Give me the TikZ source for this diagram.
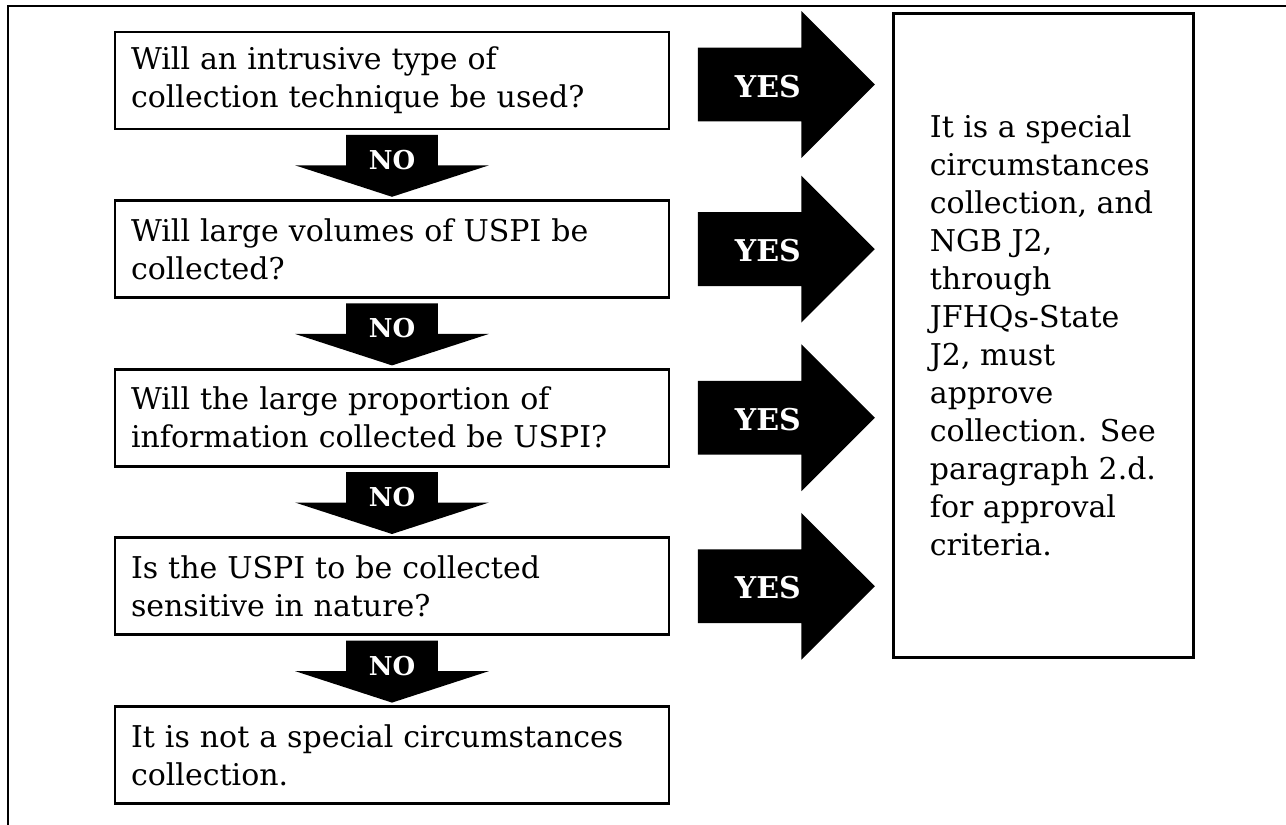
\documentclass[tikz,border=0pt]{standalone}
\usepackage{fontspec}
\setmainfont{DejaVu Serif}
\usetikzlibrary{positioning,shapes.arrows}
\tikzset{
    %Define style for question boxes
    qbox/.style={
           rectangle,
           draw=black, line width=1.4pt,
           text width=261pt,
           inner xsep=8pt,
           minimum height=48.5pt,
           align=left,
           font=\fontsize{15}{19}\selectfont},
    %Define style for the answer box
    abox/.style={
           rectangle,
           draw=black, line width=1.5pt,
           minimum width=150pt,
           minimum height=322pt,
           align=left,
           font=\fontsize{15}{19}\selectfont},
    %Define style for the block arrows
    yesarrow/.style={
           single arrow,
           fill=black, text=white,
           font=\fontsize{15}{17}\selectfont\bfseries,
           inner sep=0pt,
           text height=24.5pt, text depth=12pt,
           minimum width=0pt, minimum height=88.5pt,
           single arrow head extend=18.25pt,
           single arrow tip angle=90},
    noarrow/.style={
           single arrow, shape border rotate=270,
           fill=black, text=white,
           font=\fontsize{13}{14}\selectfont\bfseries,
           inner sep=0pt,
           text width=45.5pt, align=center,
           text height=13pt, text depth=2pt,
           minimum width=0pt, minimum height=31pt,
           single arrow head extend=25.5pt,
           single arrow tip angle=144}
}
\begin{document}
\begin{tikzpicture}[x=0.5pt,y=-0.5pt,node distance=34.4pt]
\useasboundingbox (0,0) rectangle (1286,825);
\draw[line width=1.4pt] (8,825) -- (8,6) -- (1286,6);
% question chain
\node[qbox] (q1) at (392,80.5) {Will an intrusive type of\\collection technique be used?};
\node[qbox, below=of q1] (q2) {Will large volumes of USPI be\\collected?};
\node[qbox, below=of q2] (q3) {Will the large proportion of\\information collected be USPI?};
\node[qbox, below=of q3] (q4) {Is the USPI to be collected\\sensitive in nature?};
\node[qbox, below=of q4] (q5) {It is not a special circumstances\\collection.};
\node[abox] (res) at (1043,335) {It is a special\\circumstances\\collection, and\\NGB J2,\\through\\JFHQs-State\\J2, must\\approve\\collection. See\\paragraph 2.d.\\for approval\\criteria.};
% NO arrows
\node[noarrow, below=2pt of q1, anchor=tail] (n1) {NO};
\node[noarrow, below=2pt of q2, anchor=tail] (n2) {NO};
\node[noarrow, below=2pt of q3, anchor=tail] (n3) {NO};
\node[noarrow, below=2pt of q4, anchor=tail] (n4) {NO};
% YES arrows
\node[yesarrow, right=13.5pt of q1, anchor=tail, yshift=-2pt] (y1) {YES};
\node[yesarrow, right=13.5pt of q2, anchor=tail] (y2) {YES};
\node[yesarrow, right=13.5pt of q3, anchor=tail] (y3) {YES};
\node[yesarrow, right=13.5pt of q4, anchor=tail] (y4) {YES};
\end{tikzpicture}
\end{document}
